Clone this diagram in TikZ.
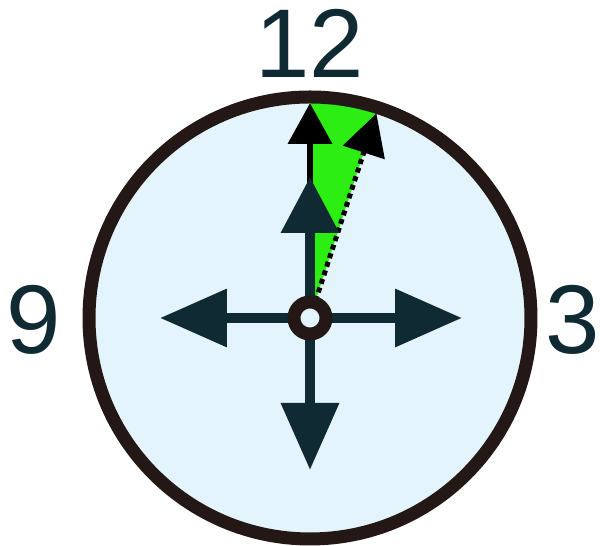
\documentclass[tikz,border=0pt]{standalone}
\usepackage{fontspec}
\setmainfont{Liberation Sans}
\usetikzlibrary{arrows.meta,calc}
\definecolor{dialblue}{HTML}{E3F4FC}
\definecolor{handcol}{HTML}{0F2A33}
\definecolor{rimcol}{HTML}{231815}
\definecolor{sweep}{HTML}{2CEE12}
\tikzset{
  hand/.style={handcol, line width=0.2cm, -{Triangle[length=1.34cm, width=1.12cm]}},
  numeral/.style={inner sep=0pt, text=handcol, font=\fontsize{55.6}{60}\selectfont}
}
\begin{document}
\begin{tikzpicture}[x=0.02cm, y=0.02cm]
            \useasboundingbox (0,0) rectangle (600,546);
            \coordinate (c) at (310,228);
            \fill[dialblue] (c) circle (221);

            % sector swept by the hand
            \fill[sweep] (c) -- ++(90:221) arc[start angle=90, end angle=72, radius=221] -- cycle;

            \coordinate (top) at ($(c)+(90:215)$);
            \coordinate (later) at ($(c)+(72:215)$);
            \draw[black, line width=0.14cm, -{Triangle[length=0.82cm, width=0.86cm]}] (c) -- (top);
            \draw[black, line width=0.1cm, dash pattern=on 0.1cm off 0.08cm, -{Triangle[length=0.82cm, width=0.86cm]}] (c) -- (later);

            \coordinate (up) at ($(c)+(0,141)$);
            \coordinate (down) at ($(c)+(0,-152)$);
            \coordinate (left) at ($(c)+(-150,0)$);
            \coordinate (right) at ($(c)+(152,0)$);
            \draw[hand, -{Triangle[length=1.12cm, width=1.12cm]}] (c) -- (up);
            \draw[hand] (c) -- (down);
            \draw[hand] (c) -- (left);
            \draw[hand] (c) -- (right);

            \draw[rimcol, line width=0.26cm] (c) circle (221);
            \draw[rimcol, line width=0.26cm, fill=dialblue] (c) circle (16);

            \node[numeral] (n12) at (310,503) {12};
            \node[numeral] (n9) at (34,226) {9};
            \node[numeral] (n3) at (573,226) {3};
        \end{tikzpicture}
\end{document}
